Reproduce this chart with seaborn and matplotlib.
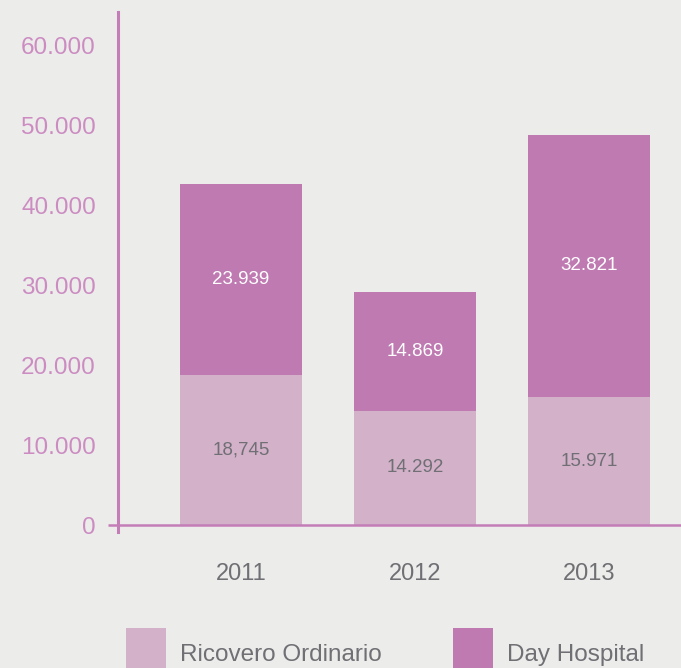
import matplotlib
matplotlib.use("Agg")
import matplotlib.pyplot as plt
from matplotlib.patches import Rectangle
import seaborn as sns
import pandas as pd

# Data
years = ["2011", "2012", "2013"]
ricovero_ordinario = [18745, 14292, 15971]
day_hospital = [23939, 14869, 32821]
ricovero_labels = ["18,745", "14.292", "15.971"]
day_hospital_labels = ["23.939", "14.869", "32.821"]
y_ticks = [0, 10000, 20000, 30000, 40000, 50000, 60000]
y_tick_labels = ["0", "10.000", "20.000", "30.000", "40.000", "50.000", "60.000"]

BG = "#ECEDEB"
LIGHT = "#D3B1C9"
DARK = "#BF7AB2"
AXIS = "#C47DB7"
TICK = "#CC8CC2"
GRAY = "#6F6F74"

sns.set_theme(style="white")
plt.rcParams["font.family"] = ["Liberation Sans", "DejaVu Sans"]

df = pd.DataFrame({
    "year": years,
    "ricovero": ricovero_ordinario,
    "day": day_hospital,
})
df["total"] = df["ricovero"] + df["day"]

fig = plt.figure(figsize=(6.81, 6.68), dpi=100, facecolor=BG)
W, H = 681, 668
ax = fig.add_axes([118 / W, 1 - 532 / H, 1 - 118 / W, (532 - 12) / H])
ax.set_facecolor(BG)

# Stacked bars: full total in the darker tone, base segment on top in the lighter tone
sns.barplot(data=df, x="year", y="total", color=DARK, width=0.70,
            saturation=1, ax=ax, linewidth=0)
sns.barplot(data=df, x="year", y="ricovero", color=LIGHT, width=0.70,
            saturation=1, ax=ax, linewidth=0)

ax.set_xlim(-0.707, 2.529)
ax.set_ylim(-875, 64125)

# Segment value labels
for i in range(len(years)):
    r = ricovero_ordinario[i]
    d = day_hospital[i]
    ax.text(i, r / 2, ricovero_labels[i], ha="center", va="center",
            color=GRAY, fontsize=13.5)
    ax.text(i, r + d / 2, day_hospital_labels[i], ha="center", va="center",
            color="white", fontsize=13.5)

# Axes styling
for s in ["top", "right", "bottom"]:
    ax.spines[s].set_visible(False)
ax.spines["left"].set_color(AXIS)
ax.spines["left"].set_linewidth(2.2)
ax.plot([-0.765, 2.529], [0, 0], color=AXIS, linewidth=1.8, clip_on=False,
        solid_capstyle="butt", zorder=5)

ax.set_yticks(y_ticks)
ax.set_yticklabels(y_tick_labels)
ax.tick_params(axis="y", length=0, pad=16, labelsize=17.5, labelcolor=TICK)
ax.tick_params(axis="x", length=0, pad=22, labelsize=17, labelcolor=GRAY)
ax.set_xlabel("")
ax.set_ylabel("")
ax.grid(False)

# Legend
sq = 40
fig.add_artist(Rectangle((126 / W, 1 - 668 / H), sq / W, sq / H,
                         transform=fig.transFigure, color=LIGHT, lw=0))
fig.add_artist(Rectangle((453 / W, 1 - 668 / H), sq / W, sq / H,
                         transform=fig.transFigure, color=DARK, lw=0))
fig.text(180 / W, 1 - 655 / H, "Ricovero Ordinario", ha="left", va="center",
         color=GRAY, fontsize=17.5)
fig.text(507 / W, 1 - 655 / H, "Day Hospital", ha="left", va="center",
         color=GRAY, fontsize=17.5)

fig.savefig("out.png", dpi=100, facecolor=BG)
